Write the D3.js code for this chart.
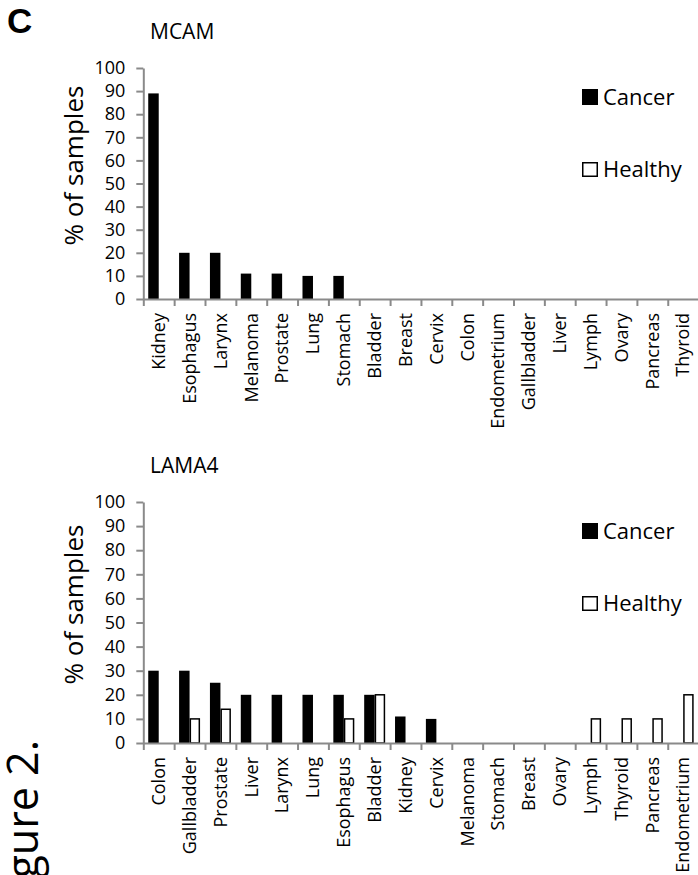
<!DOCTYPE html>
<html>
<head>
<meta charset="utf-8">
<script src="https://cdn.jsdelivr.net/npm/d3@7"></script>
<style>
  body { margin: 0; background: #fff; }
  svg { display: block; font-family: "Open Sans", sans-serif; }
</style>
</head>
<body>
<div id="vis"><svg width="698" height="875"></svg></div>
<script>
const seriesKeys = ["Cancer", "Healthy"];
const yTickValues = [0, 10, 20, 30, 40, 50, 60, 70, 80, 90, 100];

const mcamTissues = ["Kidney", "Esophagus", "Larynx", "Melanoma", "Prostate", "Lung", "Stomach",
  "Bladder", "Breast", "Cervix", "Colon", "Endometrium", "Gallbladder", "Liver", "Lymph",
  "Ovary", "Pancreas", "Thyroid"];
const mcamCancer = [89, 20, 20, 11, 11, 10, 10, 0, 0, 0, 0, 0, 0, 0, 0, 0, 0, 0];
const mcamHealthy = [0, 0, 0, 0, 0, 0, 0, 0, 0, 0, 0, 0, 0, 0, 0, 0, 0, 0];

const lama4Tissues = ["Colon", "Gallbladder", "Prostate", "Liver", "Larynx", "Lung", "Esophagus",
  "Bladder", "Kidney", "Cervix", "Melanoma", "Stomach", "Breast", "Ovary", "Lymph",
  "Thyroid", "Pancreas", "Endometrium"];
const lama4Cancer = [30, 30, 25, 20, 20, 20, 20, 20, 11, 10, 0, 0, 0, 0, 0, 0, 0, 0];
const lama4Healthy = [0, 10, 14, 0, 0, 0, 10, 20, 0, 0, 0, 0, 0, 0, 10, 10, 10, 20];

const svg = d3.select("#vis").select("svg");
const axisColor = "#8a8a8a";

// panel letter and figure caption
svg.append("text")
  .attr("x", 7).attr("y", 33)
  .attr("font-family", "Liberation Sans, sans-serif")
  .attr("font-size", 35).attr("font-weight", "bold")
  .text("C");

svg.append("text")
  .attr("transform", "translate(38,740) rotate(-90)")
  .attr("text-anchor", "end")
  .attr("font-size", 43)
  .text("Figure 2.");

function drawPanel(opts) {
  const { title, tissues, cancer, healthy, top, bottom } = opts;
  const left = 143.3, right = 698.6;
  const rows = tissues.map((t, i) => ({ tissue: t, Cancer: cancer[i], Healthy: healthy[i] }));

  const g = svg.append("g");

  const y = d3.scaleLinear().domain([0, 100]).range([bottom, top]);
  const x0 = d3.scaleBand().domain(tissues).range([left, right])
    .paddingInner(0.32).paddingOuter(0.16);
  const x1 = d3.scaleBand().domain(seriesKeys).range([0, x0.bandwidth()]);
  // boundary ticks between categories
  const xIdx = d3.scaleLinear().domain([0, tissues.length]).range([left, right]);

  g.append("text")
    .attr("x", 150).attr("y", top - 29)
    .attr("font-size", 21)
    .text(title);

  // y axis
  const yAxisG = g.append("g")
    .attr("transform", `translate(${left},0)`)
    .call(d3.axisLeft(y).tickValues(yTickValues).tickSize(7).tickPadding(11).tickSizeOuter(0));
  yAxisG.selectAll("path, line").attr("stroke", axisColor).attr("stroke-width", 2);
  yAxisG.selectAll("text").attr("font-size", 18).attr("fill", "#000")
    .attr("font-family", "Open Sans, sans-serif");

  g.append("text")
    .attr("transform", `translate(83,${(top + bottom) / 2 - 18}) rotate(-90)`)
    .attr("text-anchor", "middle")
    .attr("font-size", 26)
    .text("% of samples");

  // bars
  const groups = g.append("g").selectAll("g")
    .data(rows)
    .join("g")
    .attr("transform", d => `translate(${x0(d.tissue)},0)`);

  groups.selectAll("rect")
    .data(d => seriesKeys.map(k => ({ key: k, value: d[k] })).filter(d => d.value > 0))
    .join("rect")
    .attr("x", d => x1(d.key) + (d.key === "Healthy" ? 0.75 : 0))
    .attr("width", d => x1.bandwidth() - (d.key === "Healthy" ? 1.5 : 0))
    .attr("y", d => y(d.value))
    .attr("height", d => y(0) - y(d.value))
    .attr("fill", d => d.key === "Cancer" ? "#000" : "#fff")
    .attr("stroke", d => d.key === "Healthy" ? "#000" : "none")
    .attr("stroke-width", 1.5);

  // x axis line and boundary ticks
  const xAxisG = g.append("g")
    .attr("transform", `translate(0,${bottom})`)
    .call(d3.axisBottom(xIdx).tickValues(d3.range(tissues.length + 1)).tickFormat("").tickSize(7).tickSizeOuter(0));
  xAxisG.selectAll("path, line").attr("stroke", axisColor).attr("stroke-width", 2);

  // category labels
  g.append("g").selectAll("text")
    .data(tissues)
    .join("text")
    .attr("transform", d => `translate(${x0(d) + x0.bandwidth() / 2},${bottom + 14}) rotate(-90)`)
    .attr("dy", "0.35em")
    .attr("text-anchor", "end")
    .attr("font-size", 18)
    .text(d => d);

  // legend
  const legend = g.append("g").selectAll("g")
    .data(seriesKeys)
    .join("g")
    .attr("transform", (d, i) => `translate(582,${top + (i === 0 ? 37 : 109)})`);
  legend.append("rect")
    .attr("x", d => d === "Cancer" ? 0 : 0.75)
    .attr("y", d => d === "Cancer" ? -16 : -14.25)
    .attr("width", d => d === "Cancer" ? 16 : 14.5)
    .attr("height", d => d === "Cancer" ? 16 : 13.5)
    .attr("fill", d => d === "Cancer" ? "#000" : "#fff")
    .attr("stroke", d => d === "Cancer" ? "none" : "#000")
    .attr("stroke-width", 1.5);
  legend.append("text")
    .attr("x", 21).attr("y", 0)
    .attr("font-size", 22)
    .text(d => d);
}

drawPanel({ title: "MCAM", tissues: mcamTissues, cancer: mcamCancer, healthy: mcamHealthy, top: 68, bottom: 299 });
drawPanel({ title: "LAMA4", tissues: lama4Tissues, cancer: lama4Cancer, healthy: lama4Healthy, top: 502, bottom: 743 });
</script>
</body>
</html>
